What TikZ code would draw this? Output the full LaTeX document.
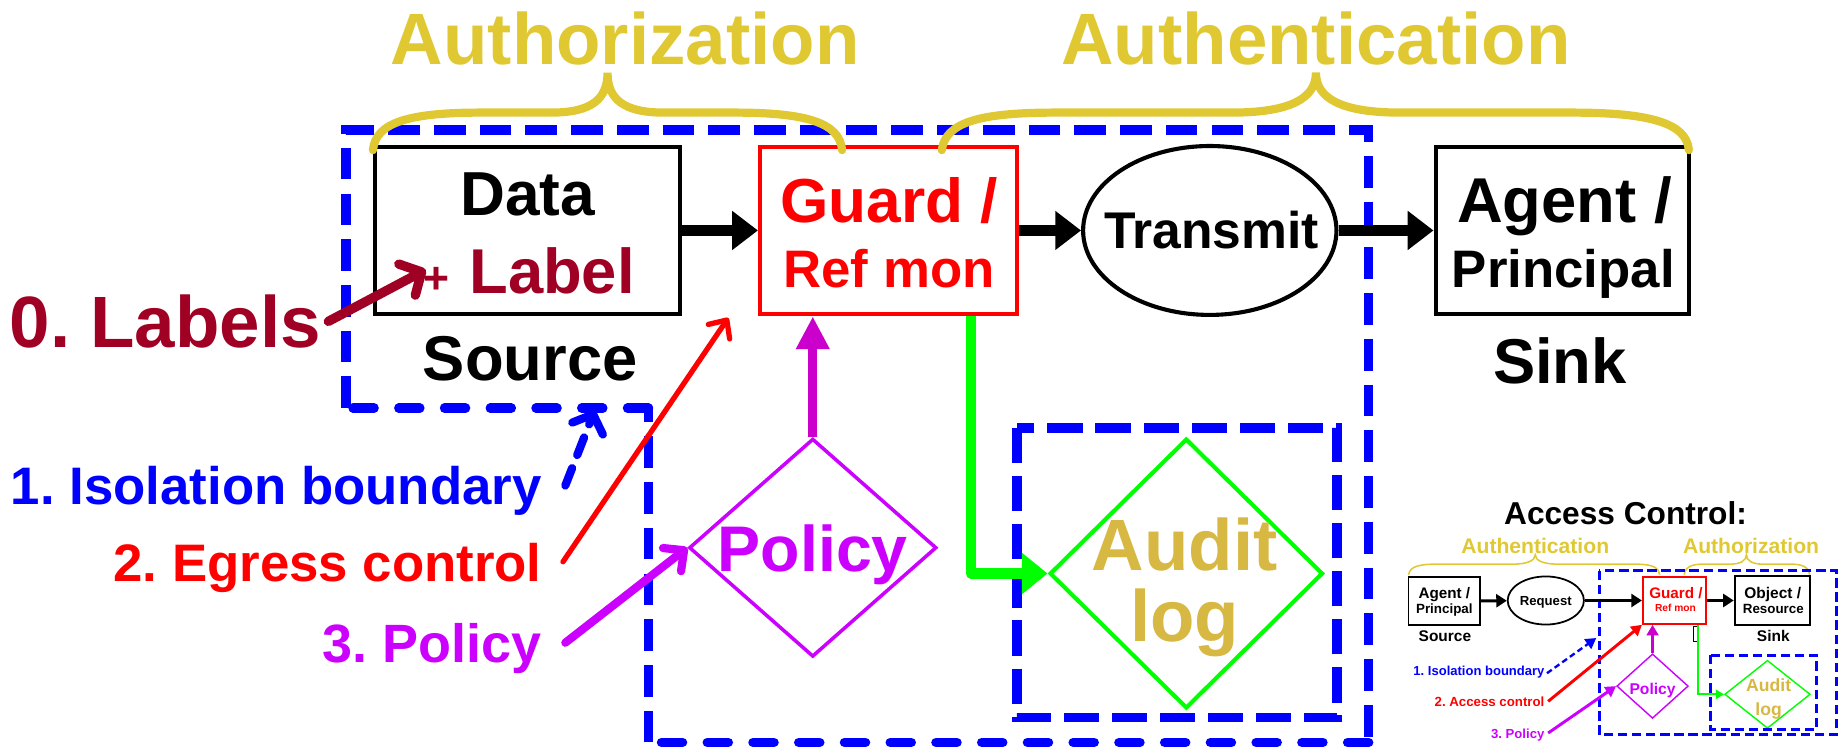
\documentclass[tikz,border=0pt]{standalone}
\usepackage{fontspec}
\setmainfont{Liberation Sans}
\usetikzlibrary{arrows.meta,shapes.geometric}
\definecolor{gold}{RGB}{224,200,50}
\definecolor{ochre}{RGB}{214,184,66}
\definecolor{wine}{RGB}{160,0,35}
\definecolor{pviolet}{RGB}{204,0,255}
\definecolor{pmag}{RGB}{204,0,204}
\definecolor{gLime}{RGB}{0,255,0}
\definecolor{bblue}{RGB}{0,0,255}
\definecolor{rred}{RGB}{255,0,0}
\newcommand\fsz[1]{\fontsize{#1pt}{#1pt}\selectfont}
\frenchspacing
\begin{document}
\begin{tikzpicture}[x=1pt,y=-1pt,
  txt/.style={inner sep=0pt, anchor=base},
  box/.style={draw, line width=3.5pt, inner sep=0pt},
  sbox/.style={draw, line width=1.5pt, inner sep=0pt},
  brace/.style={draw=gold, line width=7pt, line cap=round},
  sbrace/.style={draw=gold, line width=1.3pt},
  iso/.style={draw=bblue, line width=8pt, dash pattern=on 27pt off 12pt},
  isoround/.style={draw=bblue, line width=8pt, line cap=round, dash pattern=on 18pt off 21pt},
  siso/.style={draw=bblue, line width=2.5pt, dash pattern=on 8pt off 4pt},
  bigarrow/.style={line width=9pt, -{Triangle[length=22pt,width=32pt]}},
  smallarrow/.style={line width=2.5pt, -{Triangle[length=9pt,width=11pt]}},
  barb/.style={line cap=round, line join=round},
]
\useasboundingbox (0,0) rectangle (1568,640);

% ---------- main flow ----------
\node[box, minimum width=260pt, minimum height=143pt] (src) at (450,196.5) {};
\node[box, draw=rred, minimum width=219pt, minimum height=143pt] (grd) at (757.5,196.5) {};
\node[ellipse, draw, line width=3.5pt, inner sep=0pt, minimum width=216pt, minimum height=144pt] (tx) at (1031.5,196.5) {};
\node[box, minimum width=216pt, minimum height=143pt] (agt) at (1332,196.5) {};
\node[diamond, draw=pviolet, line width=3pt, inner sep=0pt, minimum width=211pt, minimum height=186pt] (pol) at (693,467) {};
\node[diamond, draw=gLime, line width=3.5pt, inner sep=0pt, minimum width=233pt, minimum height=230pt] (aud) at (1011.5,489) {};

% isolation boundaries
\draw[iso] (295,348) -- (295,111) -- (1167,111) -- (1167,633);
\draw[isoround] (1167,633) -- (553,633);
\draw[iso] (553,633) -- (553,348);
\draw[isoround] (553,348) -- (295,348);
\draw[iso, dash pattern=on 30pt off 11pt] (867,365) rectangle (1140,612);

% braces
\draw[brace] (318,128) .. controls (320,104) and (350,96) .. (410,96) -- (470,96)
  .. controls (505,96) and (518,84) .. (518,62) .. controls (518,84) and (531,96) .. (566,96)
  -- (626,96) .. controls (686,96) and (716,104) .. (718,128);
\draw[brace] (803,128) .. controls (806,104) and (836,96) .. (900,96) -- (1050,96)
  .. controls (1100,96) and (1122,84) .. (1122,62) .. controls (1122,84) and (1144,96) .. (1194,96)
  -- (1340,96) .. controls (1404,96) and (1438,104) .. (1440,128);

% flow arrows
\draw[bigarrow] (src) -- (grd);
\draw[bigarrow] (grd) -- (tx);
\draw[bigarrow] (tx) -- (agt);
\draw[draw=gLime, line width=9pt, line join=round, -{Triangle[length=22pt,width=34pt]}]
  (grd.south) ++(70.5,0) |- (aud.west);
\draw[draw=pmag, line width=8pt, -{Triangle[length=28pt,width=27pt]}]
  (pol.north) -- (pol.north |- grd.south);

% texts
\node[txt, text=gold, font=\bfseries\fsz{62}] (tAuz) at (533,55) {Authorization};
\node[txt, text=gold, font=\bfseries\fsz{62}] (tAun) at (1122,55) {Authentication};
\node[txt, font=\bfseries\fsz{53}] (tData) at (450,184) {Data};
\node[txt, text=wine, font=\bfseries\fsz{38}] (tPlus) at (372,250) {+};
\node[txt, anchor=base west, text=wine, font=\bfseries\fsz{54}] (tLabel) at (400,250) {Label};
\node[txt, font=\bfseries\fsz{54}] (tSource) at (452,324) {Source};
\node[txt, text=rred, font=\bfseries\fsz{53}] (tGuard) at (758,190) {Guard /};
\node[txt, text=rred, font=\bfseries\fsz{45}] (tRef) at (758,245) {Ref mon};
\node[txt, font=\bfseries\fsz{44}] (tTx) at (1033,212) {Transmit};
\node[txt, font=\bfseries\fsz{54}] (tAgent) at (1334,190) {Agent /};
\node[txt, font=\bfseries\fsz{45}] (tPrin) at (1333,245) {Principal};
\node[txt, font=\bfseries\fsz{54}] (tSink) at (1330,327) {Sink};
\node[txt, text=pviolet, font=\bfseries\fsz{55}] (tPol) at (693,487) {Policy};
\node[txt, text=ochre, font=\bfseries\fsz{62}] (tAudit) at (1010,486) {Audit};
\node[txt, text=ochre, font=\bfseries\fsz{62}] (tLog) at (1010,547) {log};

% numbered labels
\node[txt, anchor=base west, text=wine, font=\bfseries\fsz{62}] (l0) at (8,296) {0. Labels};
\node[txt, anchor=base east, text=bblue, font=\bfseries\fsz{45}] (l1) at (462,430) {1. Isolation boundary};
\node[txt, anchor=base east, text=rred, font=\bfseries\fsz{45}] (l2) at (462,496) {2. Egress control};
\node[txt, anchor=base east, text=pviolet, font=\bfseries\fsz{46}] (l3) at (462,565) {3. Policy};

\coordinate (c0a) at (280,274); \coordinate (c0b) at (363,230);
\coordinate (c1a) at (482,414); \coordinate (c1b) at (507,350);
\coordinate (c2a) at (480,479); \coordinate (c2b) at (621,271);
\coordinate (c3a) at (482,548);
\draw[barb, draw=wine, line width=8pt, -{Straight Barb[length=14pt,width=30pt,round]}] (c0a) -- (c0b);
\draw[barb, draw=bblue, line width=7pt, dash pattern=on 16pt off 12pt, -{Straight Barb[length=13pt,width=28pt,round]}] (c1a) -- (c1b);
\draw[barb, draw=rred, line width=4.5pt, -{Straight Barb[length=12pt,width=22pt,round]}] (c2a) -- (c2b);
\draw[barb, draw=pviolet, line width=7pt, -{Straight Barb[length=13pt,width=25pt,round]}] (c3a) -- (pol.west);

% ---------- access control summary ----------
\node[txt, font=\bfseries\fsz{27}] (iTitle) at (1386,447) {Access Control:};
\node[txt, text=gold, font=\bfseries\fsz{18}] (iAun) at (1309,472) {Authentication};
\node[txt, text=gold, font=\bfseries\fsz{18}] (iAuz) at (1493,472) {Authorization};
\draw[sbrace] (1201,490) .. controls (1202,483) and (1210,481) .. (1225,481) -- (1290,481)
  .. controls (1302,481) and (1309,478) .. (1309,473) .. controls (1309,478) and (1316,481) .. (1328,481)
  -- (1393,481) .. controls (1408,481) and (1414,483) .. (1415,490);
\draw[sbrace] (1436,490) .. controls (1437,483) and (1443,481) .. (1452,481) -- (1475,481)
  .. controls (1484,481) and (1489,478) .. (1489,473) .. controls (1489,478) and (1494,481) .. (1503,481)
  -- (1527,481) .. controls (1536,481) and (1542,483) .. (1543,490);

\node[sbox, minimum width=61pt, minimum height=41pt] (iagt) at (1231.5,512.5) {};
\node[ellipse, draw, line width=1.5pt, inner sep=0pt, minimum width=65pt, minimum height=41pt] (ireq) at (1318,512) {};
\node[sbox, draw=rred, minimum width=54pt, minimum height=40pt] (igrd) at (1427.7,512) {};
\node[sbox, minimum width=64pt, minimum height=42pt] (iobj) at (1511,512) {};
\node[diamond, draw=pviolet, line width=1.2pt, inner sep=0pt, minimum width=61pt, minimum height=55pt] (ipol) at (1409,585) {};
\node[diamond, draw=gLime, line width=1.2pt, inner sep=0pt, minimum width=73pt, minimum height=58pt] (iaud) at (1507,592) {};

\draw[siso] (1363.5,486.5) rectangle (1566,626.5);
\draw[siso] (1458.5,558.5) rectangle (1549,622);

\draw[smallarrow] (iagt) -- (ireq);
\draw[smallarrow] (ireq) -- (igrd);
\draw[smallarrow] (igrd) -- (iobj);
\draw[draw=pmag, line width=2.5pt, -{Triangle[length=9pt,width=10pt]}] (ipol.north) -- (ipol.north |- igrd.south);
\draw[draw=gLime, line width=1.6pt, -{Triangle[length=7pt,width=8pt]}] (igrd.south) ++(19.8,0) |- (iaud.west);
\draw[line width=0.8pt] (1446.5,534) -- (1444.3,534) -- (1444.3,547) -- (1446.5,547);

\node[txt, font=\bfseries\fsz{13}] (iAgent) at (1231.5,510) {Agent /};
\node[txt, font=\bfseries\fsz{11.4}] (iPrin) at (1231.5,523.5) {Principal};
\node[txt, font=\bfseries\fsz{13.2}] (iSource) at (1232,547) {Source};
\node[txt, font=\bfseries\fsz{11.2}] (iReq) at (1318,516) {Request};
\node[txt, text=rred, font=\bfseries\fsz{13}] (iGuard) at (1429,510) {Guard /};
\node[txt, text=rred, font=\bfseries\fsz{8.7}] (iRef) at (1428.5,521.5) {Ref mon};
\node[txt, font=\bfseries\fsz{13.2}] (iObj) at (1511.5,510) {Object /};
\node[txt, font=\bfseries\fsz{11.4}] (iRes) at (1512,523.5) {Resource};
\node[txt, font=\bfseries\fsz{13.2}] (iSink) at (1512,547) {Sink};
\node[txt, text=pviolet, font=\bfseries\fsz{13.3}] (iPolT) at (1409,592) {Policy};
\node[txt, text=ochre, font=\bfseries\fsz{15}] (iAudit) at (1508,590) {Audit};
\node[txt, text=ochre, font=\bfseries\fsz{15}] (iLog) at (1508,610) {log};

\node[txt, anchor=base east, text=bblue, font=\bfseries\fsz{11.1}] (il1) at (1317,575.6) {1. Isolation boundary};
\node[txt, anchor=base east, text=rred, font=\bfseries\fsz{11.3}] (il2) at (1317,602.6) {2. Access control};
\node[txt, anchor=base east, text=pviolet, font=\bfseries\fsz{11.2}] (il3) at (1317,629.5) {3. Policy};
\coordinate (ic1a) at (1319,574); \coordinate (ic1b) at (1361,544);
\coordinate (ic2a) at (1320,598);
\coordinate (ic3a) at (1320,625);
\draw[draw=bblue, line width=2pt, dash pattern=on 5pt off 3pt, -{Triangle[length=9pt,width=10pt]}] (ic1a) -- (ic1b);
\draw[draw=rred, line width=2.5pt, -{Triangle[length=9pt,width=10pt]}] (ic2a) -- (igrd.south west);
\draw[draw=pviolet, line width=2.5pt, -{Triangle[length=9pt,width=10pt]}] (ic3a) -- (ipol.west);
\end{tikzpicture}
\end{document}
